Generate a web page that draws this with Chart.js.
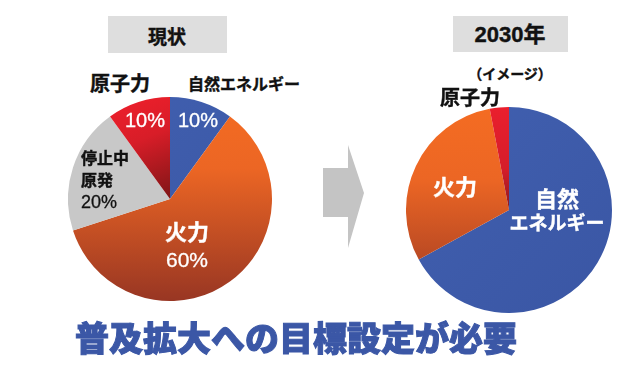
<!DOCTYPE html>
<html><head><meta charset="utf-8">
<script src="https://cdn.jsdelivr.net/npm/chart.js@4/dist/chart.umd.min.js"></script>
<style>
html,body{margin:0;padding:0;background:#fff;width:640px;height:373px;overflow:hidden;}
#wrap{position:relative;width:640px;height:373px;font-family:"Noto Sans CJK JP","Noto Sans",sans-serif;}
.abs{position:absolute;white-space:nowrap;line-height:1;}
.box{position:absolute;background:#dedede;}
.c{transform:translate(-50%,-50%);text-align:center;}
.b{font-weight:700;-webkit-text-stroke:0.4px currentColor;}
.w{color:#fff;}
.k{color:#111;}
canvas{position:absolute;}
</style></head><body>
<div id="wrap">
  <div class="box" style="left:108px;top:16px;width:119px;height:37px;"></div>
  <div class="box" style="left:453px;top:16px;width:115px;height:36px;"></div>
  <svg class="abs" style="left:0;top:0" width="640" height="373">
    <polygon points="323,168 348,168 348,145 364,193 348,248 348,217 323,217" fill="#c4c4c4"/>
  </svg>
  <canvas id="left" width="204" height="204" style="left:68px;top:97px;"></canvas>
  <canvas id="right" width="206" height="206" style="left:406px;top:107px;"></canvas>
  <div id="labels"></div>
</div>
<script>
// ---- data ----
const leftTitle = '現状';
const rightTitle = '2030年';
const rightSubtitle = '（イメージ）';
const leftLabels = ['自然エネルギー', '火力', '停止中原発', '原子力'];
const leftValues = [10, 60, 20, 10];
const rightLabels = ['自然エネルギー', '火力', '原子力'];
const rightValues = [67, 30, 3];
const headline = '普及拡大への目標設定が必要';

function grad(chart, kind) {
  const c = chart.ctx, a = chart.chartArea;
  if (!a) return '#888';
  let g;
  if (kind === 'orange') {
    g = c.createLinearGradient(0, a.top, 0, a.bottom);
    g.addColorStop(0, '#f46c22');
    g.addColorStop(0.35, '#ec6624');
    g.addColorStop(1, '#983623');
  } else if (kind === 'red') {
    g = c.createLinearGradient(a.left + (a.right - a.left) * 0.3, a.top, (a.left + a.right) / 2, a.top + (a.bottom - a.top) * 0.5);
    g.addColorStop(0, '#ec1f2b');
    g.addColorStop(0.4, '#d81d28');
    g.addColorStop(1, '#7e1516');
  } else if (kind === 'red2') {
    g = c.createLinearGradient(0, a.top, 0, (a.top + a.bottom) / 2);
    g.addColorStop(0, '#ea1f2d');
    g.addColorStop(0.6, '#d51d2a');
    g.addColorStop(1, '#8a1a1e');
  } else if (kind === 'blue') {
    g = c.createLinearGradient(a.left, a.top, a.right, a.bottom);
    g.addColorStop(0, '#4160b0');
    g.addColorStop(1, '#3a56a4');
  } else {
    g = '#c8c8c8';
  }
  return g;
}

const common = {
  responsive: false,
  animation: false,
  layout: { padding: 0 },
  plugins: { legend: { display: false }, tooltip: { enabled: false } },
};

new Chart(document.getElementById('left'), {
  type: 'pie',
  data: {
    labels: leftLabels,
    datasets: [{
      data: leftValues,
      borderWidth: 0,
      backgroundColor: (ctx) => grad(ctx.chart, ['blue', 'orange', 'gray', 'red'][ctx.dataIndex]),
    }]
  },
  options: common
});

new Chart(document.getElementById('right'), {
  type: 'pie',
  data: {
    labels: rightLabels,
    datasets: [{
      data: rightValues,
      borderWidth: 0,
      backgroundColor: (ctx) => grad(ctx.chart, ['blue', 'orange', 'red2'][ctx.dataIndex]),
    }]
  },
  options: common
});

// ---- text labels ----
const L = document.getElementById('labels');
function add(text, x, y, size, cls, extra) {
  const d = document.createElement('div');
  d.className = 'abs ' + cls;
  d.textContent = text;
  d.style.left = x + 'px';
  d.style.top = y + 'px';
  d.style.fontSize = size + 'px';
  if (extra) Object.assign(d.style, extra);
  L.appendChild(d);
  return d;
}
const pct = { fontFamily: '"Liberation Sans",sans-serif', webkitTextStroke: '0.3px currentColor' };
add(leftTitle, 167, 35, 19, 'c b k');
add(rightTitle, 510, 35, 22, 'c b k', { fontFamily: '"Liberation Sans","Noto Sans CJK JP",sans-serif' });
add(rightSubtitle, 510, 73, 14, 'c b k');
add(leftLabels[3], 120, 83, 20, 'c b k');
add(leftLabels[0], 244, 83, 16, 'c b k');
add(leftValues[3] + '%', 145, 120, 20, 'c w', pct);
add(leftValues[0] + '%', 198, 120, 20, 'c w', pct);
add('停止中', 81, 149, 16, 'b k');
add('原発', 81, 171, 16, 'b k');
add(leftValues[2] + '%', 81, 193, 18, 'k', pct);
add(leftLabels[1], 187, 230, 22, 'c b w');
add(leftValues[1] + '%', 187, 259, 21, 'c w', pct);
add(rightLabels[2], 470, 97, 20, 'c b k');
add(rightLabels[1], 455, 185, 22, 'c b w');
add('自然', 557, 197, 22, 'c b w');
add('エネルギー', 557, 221, 19, 'c b w');
add(headline, 296, 337, 34, 'c b', { color: '#3b57a6', fontWeight: 900, webkitTextStroke: '1px #3b57a6' });
</script>
</body></html>
